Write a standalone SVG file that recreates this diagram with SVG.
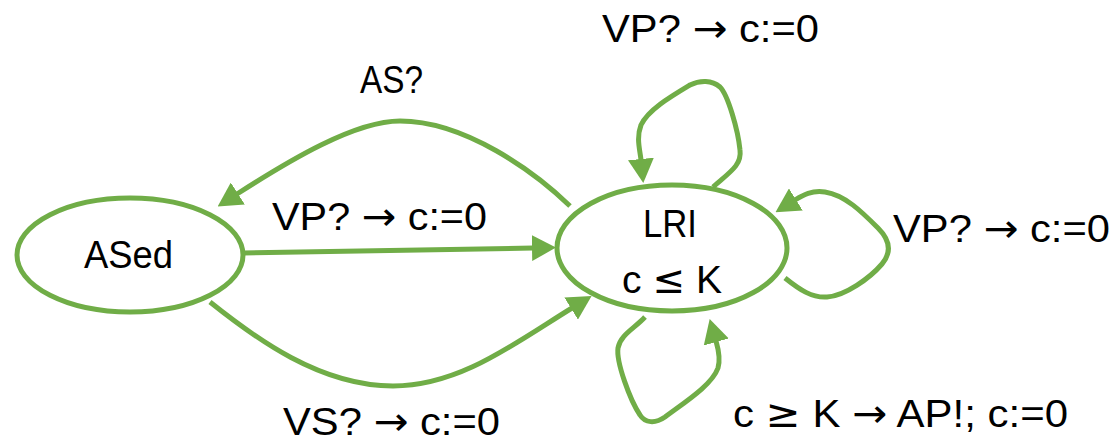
<svg xmlns="http://www.w3.org/2000/svg" width="1117" height="444" viewBox="0 0 1117 444">
<style>
.node{fill:#ffffff;stroke:#70AD47;stroke-width:5}
.edge{fill:none;stroke:#70AD47;stroke-width:5;marker-end:url(#arr)}
.lbl{font-family:"Liberation Sans","DejaVu Sans",sans-serif;font-size:39px;fill:#000000}
.sym{font-family:"DejaVu Sans",sans-serif}
</style>
<defs>
<marker id="arr" markerUnits="userSpaceOnUse" markerWidth="24" markerHeight="26" viewBox="0 0 24 26" refX="1" refY="13" orient="auto">
<path d="M0,0 L24,13 L0,26 z" fill="#70AD47"/>
</marker>
</defs>
<g id="connectors">
<path class="edge" d="M243,253 L533,248"/>
<path class="edge" d="M570,206 C535,172 465,121 400,121 C355,121 290,160 237,194"/>
<path class="edge" d="M210,302 C255,338 320,386 393,386 C460,386 515,343 572,308"/>
<path class="edge" d="M713,187 C730,172 742,165 740,150 C738,130 728,95 720,87 C712,80 700,80 690,85 C670,97 648,110 641,125 C636,138 640,150 641,160"/>
<path class="edge" d="M785,278 C800,290 812,298 827,297 C845,296 870,278 882,264 C892,252 890,240 878,228 C862,212 845,195 825,192 C812,190 803,195 795,200"/>
<path class="edge" d="M645,317 C635,328 620,335 618,348 C616,362 630,400 640,415 C645,423 655,424 665,417 C685,402 712,385 718,368 C721,358 718,348 716,341"/>
<text class="lbl" x="602" y="42" textLength="217" lengthAdjust="spacingAndGlyphs">VP? <tspan class="sym">→</tspan> c:=0</text>
<text class="lbl" x="360" y="93" textLength="63" lengthAdjust="spacingAndGlyphs">AS?</text>
<text class="lbl" x="272" y="230" textLength="215" lengthAdjust="spacingAndGlyphs">VP? <tspan class="sym">→</tspan> c:=0</text>
<text class="lbl" x="893" y="242" textLength="217" lengthAdjust="spacingAndGlyphs">VP? <tspan class="sym">→</tspan> c:=0</text>
<text class="lbl" x="283" y="435" textLength="217" lengthAdjust="spacingAndGlyphs">VS? <tspan class="sym">→</tspan> c:=0</text>
<text class="lbl" x="733" y="427" textLength="335" lengthAdjust="spacingAndGlyphs">c <tspan class="sym">≥</tspan> K <tspan class="sym">→</tspan> AP!; c:=0</text>
</g>
<g id="ASed">
<ellipse class="node" cx="130" cy="255" rx="113" ry="57"/>
<text class="lbl" x="84" y="268" textLength="89" lengthAdjust="spacingAndGlyphs">ASed</text>
</g>
<g id="LRI">
<ellipse class="node" cx="672" cy="248" rx="115" ry="63"/>
<text class="lbl" x="643" y="237" textLength="54" lengthAdjust="spacingAndGlyphs">LRI</text>
<text class="lbl" x="622" y="293" textLength="100" lengthAdjust="spacingAndGlyphs">c <tspan class="sym">≤</tspan> K</text>
</g>
</svg>
